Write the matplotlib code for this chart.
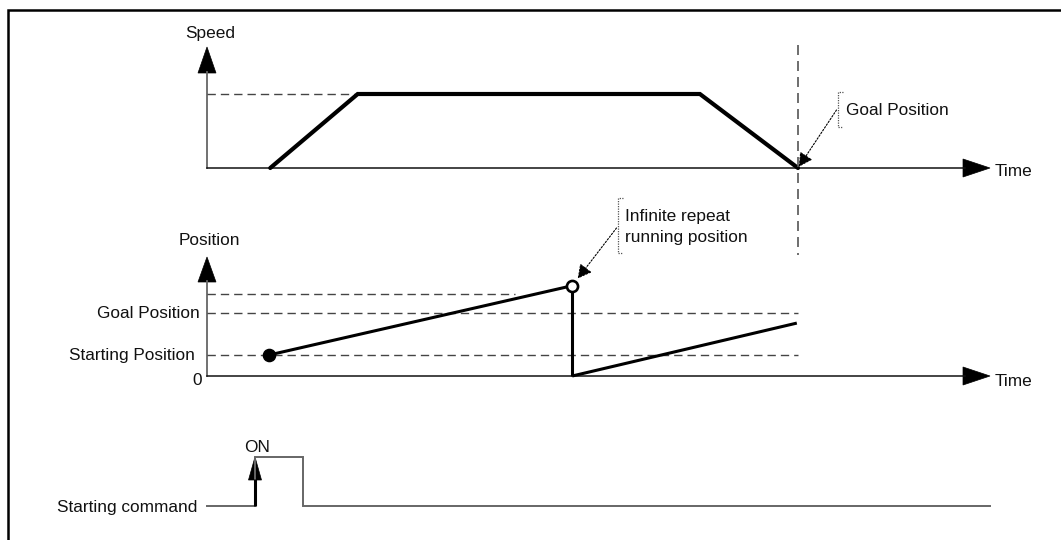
import matplotlib
matplotlib.use("Agg")
import matplotlib.pyplot as plt
from matplotlib.patches import Polygon

# ---------------- data (time in arbitrary units, goal reached at t = 10) -------------
speed_t = [1.07, 2.55, 8.34, 10.0]
speed_v = [0, 100, 100, 0]
speed_max = 100
goal_t = 10.0

pos_ramp1_t = [1.05, 6.18]
pos_ramp1_v = [100, 430]
pos_drop_t = [6.18, 6.18]
pos_drop_v = [430, 0]
pos_ramp2_t = [6.18, 9.98]
pos_ramp2_v = [0, 252]
start_pos = 100
goal_pos = 300
repeat_pos = 390
repeat_dash_end_t = 5.21

cmd_t = [0, 0.81, 0.81, 1.62, 1.62, 13.25]
cmd_v = [0, 0, 1, 1, 0, 0]
cmd_on_t = 0.81
t_end = 13.25

# ---------------- layout --------------------------------------------------------------
W, H = 1061, 540
plt.rcParams["font.family"] = ["Liberation Sans", "DejaVu Sans"]
FS = 12.4
TXT = "#111111"

fig = plt.figure(figsize=(W / 100, H / 100), dpi=100)
PX_T0, PX_PER_T = 207.0, 59.1
XLIM = (-PX_T0 / PX_PER_T, (W - PX_T0) / PX_PER_T)


def X(px):
    return (px - PX_T0) / PX_PER_T


def panel(px_zero, px_ref, val_ref):
    ax = fig.add_axes([0, 0, 1, 1])
    ax.set_xlim(XLIM)
    s = val_ref / (px_zero - px_ref)
    ax.set_ylim(-(H - px_zero) * s, px_zero * s)
    ax.axis("off")

    def Y(py):
        return (px_zero - py) * s

    return ax, Y


lay = fig.add_axes([0, 0, 1, 1])
lay.set_xlim(0, W)
lay.set_ylim(H, 0)
lay.axis("off")

# outer frame (cut at right/bottom)
lay.plot([8, 8, W + 5], [H + 5, 10, 10], color="black", lw=1.8, solid_joinstyle="miter",
         clip_on=False)

AXC = "#666666"
TC = "#111111"
DASH = dict(color="#444444", lw=1.0, ls=(0, (6, 3.6)))


def up_arrow(ax, Y, tip_py, base_py, half_w, px_x=PX_T0, color="black"):
    pts = [(X(px_x), Y(tip_py)), (X(px_x - half_w), Y(base_py)), (X(px_x + half_w), Y(base_py))]
    ax.add_patch(Polygon(pts, closed=True, facecolor=color, edgecolor=color, lw=0.5))


def right_arrow(ax, Y, py, tip_px=990, base_px=963, half_h=9):
    pts = [(X(tip_px), Y(py)), (X(base_px), Y(py - half_h)), (X(base_px), Y(py + half_h))]
    ax.add_patch(Polygon(pts, closed=True, facecolor="black", edgecolor="black", lw=0.5))


ANN = dict(arrowstyle="-|>,head_length=0.6,head_width=0.32", lw=0.8,
           ls=(0, (1.5, 1.5)), color="black", shrinkA=0, mutation_scale=14)

# ---------------- speed panel ---------------------------------------------------------
ax_s, Ys = panel(168, 94, speed_max)
ax_s.plot([0, 0], [0, Ys(72)], color=AXC, lw=1.3)
up_arrow(ax_s, Ys, 47, 73, 9)
ax_s.plot([0, X(965)], [0, 0], color=TC, lw=1.1)
right_arrow(ax_s, Ys, 168)
ax_s.plot([0, speed_t[1]], [speed_max, speed_max], **DASH)
ax_s.plot(speed_t, speed_v, color="black", lw=3.0, solid_joinstyle="miter",
          solid_capstyle="round")
ax_s.text(X(210), Ys(38), "Speed", ha="center", va="baseline", fontsize=FS, color=TXT)
ax_s.text(X(995), Ys(176), "Time", ha="left", va="baseline", fontsize=FS, color=TXT)
# goal vertical dashed line
ax_s.plot([goal_t, goal_t], [Ys(45), Ys(255)], color="#555555", lw=1.2, ls=(0, (6, 3.6)))
# goal annotation
lay.plot([843, 838, 838, 843], [92, 92, 127, 127], color="#555555", lw=0.9, ls=(0, (1, 1)))
ax_s.text(X(846), Ys(115), "Goal Position", ha="left", va="baseline", fontsize=FS, color=TXT)
ax_s.annotate("", xy=(goal_t, 0), xytext=(X(836.5), Ys(110)),
              arrowprops=dict(ANN, shrinkB=1))

# ---------------- position panel ------------------------------------------------------
ax_p, Yp = panel(376, 355, start_pos)
ax_p.plot([0, 0], [0, Yp(281)], color=AXC, lw=1.3)
up_arrow(ax_p, Yp, 257, 282, 9)
ax_p.plot([0, X(965)], [0, 0], color=TC, lw=1.1)
right_arrow(ax_p, Yp, 376)
ax_p.plot([0, repeat_dash_end_t], [repeat_pos, repeat_pos], **DASH)
ax_p.plot([0, goal_t], [goal_pos, goal_pos], **DASH)
ax_p.plot([0, goal_t], [start_pos, start_pos], **DASH)
ax_p.plot(pos_ramp1_t, pos_ramp1_v, color="black", lw=2.2, solid_capstyle="butt")
ax_p.plot(pos_drop_t, pos_drop_v, color="black", lw=2.2, solid_capstyle="butt")
ax_p.plot(pos_ramp2_t, pos_ramp2_v, color="black", lw=2.2, solid_capstyle="butt")
ax_p.plot([pos_ramp1_t[0]], [pos_ramp1_v[0]], "o", ms=8.8, color="black")
ax_p.plot([pos_ramp1_t[1]], [pos_ramp1_v[1]], "o", ms=8.0, mfc="white", mec="black", mew=1.9)
ax_p.text(X(209), Yp(245), "Position", ha="center", va="baseline", fontsize=FS, color=TXT)
ax_p.text(X(200), Yp(318), "Goal Position", ha="right", va="baseline", fontsize=FS, color=TXT)
ax_p.text(X(195), Yp(360), "Starting Position", ha="right", va="baseline", fontsize=FS,
          color=TXT)
ax_p.text(X(202), Yp(385), "0", ha="right", va="baseline", fontsize=FS, color=TXT)
ax_p.text(X(995), Yp(386), "Time", ha="left", va="baseline", fontsize=FS, color=TXT)
# repeat annotation
lay.plot([623, 618, 618, 623], [198, 198, 253, 253], color="#555555", lw=0.9, ls=(0, (1, 1)))
ax_p.text(X(625), Yp(221), "Infinite repeat", ha="left", va="baseline", fontsize=FS, color=TXT)
ax_p.text(X(625), Yp(242), "running position", ha="left", va="baseline", fontsize=FS,
          color=TXT)
ax_p.annotate("", xy=(pos_ramp1_t[1], pos_ramp1_v[1]), xytext=(X(616.5), Yp(228)),
              arrowprops=dict(ANN, shrinkB=6.5))

# ---------------- starting command panel ----------------------------------------------
ax_c, Yc = panel(506, 457, 1)
ax_c.plot(cmd_t, cmd_v, color="#666666", lw=1.4, solid_joinstyle="miter")
ax_c.plot([cmd_on_t, cmd_on_t], [0, Yc(479)], color="black", lw=2.2, solid_capstyle="butt")
up_arrow(ax_c, Yc, 457, 480, 6.5, px_x=255)
ax_c.text(X(257.5), Yc(452), "ON", ha="center", va="baseline", fontsize=FS, color=TXT)
ax_c.text(X(197), Yc(512), "Starting command", ha="right", va="baseline", fontsize=FS,
          color=TXT)

fig.savefig("out.png", dpi=100)
